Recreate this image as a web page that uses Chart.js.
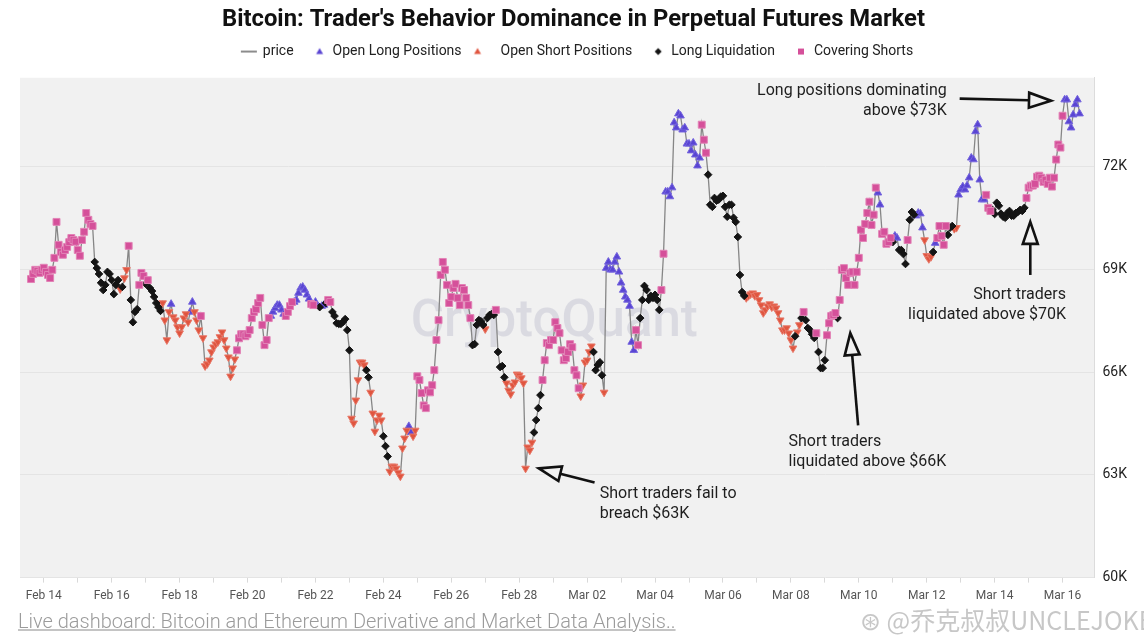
<!DOCTYPE html>
<html><head><meta charset="utf-8">
<script src="https://cdn.jsdelivr.net/npm/chart.js@4.4.1/dist/chart.umd.min.js"></script>
<style>
html,body{margin:0;padding:0;background:#fff;}
#wrap{position:relative;width:1144px;height:642px;overflow:hidden;}
#c{position:absolute;left:0;top:0;}
#footer{position:absolute;left:18px;top:609px;font:300 20px Roboto,sans-serif;color:#9b9b9b;text-decoration:underline;text-decoration-color:#c4c4c4;white-space:nowrap;}
#wm{position:absolute;left:860px;top:601px;font:25px "Noto Sans CJK SC",sans-serif;color:rgba(175,175,175,0.7);white-space:nowrap;}
</style></head>
<body><div id="wrap"><canvas id="c" width="1144" height="642"></canvas>
<div id="footer">Live dashboard: Bitcoin and Ethereum Derivative and Market Data Analysis..</div>
<div id="wm">⊛ @乔克叔叔UNCLEJOKE</div></div>
<script>
// ---- data: two interleaved 3-hourly grids (offset 1.5 h) ----
const startDay = -0.375;      // days from Feb 14 00:00
const stepDays = 0.125;       // 3 hours between samples of one grid
const pricesA = [
  68720,68990,68900,69050,68840,68990,70390,69510,69570,69800,
  69860,69570,69860,70650,70330,69220,68870,68400,68930,68690,
  68550,68430,68750,69690,67460,67840,68900,68580,68460,68200,
  67900,68020,66940,67990,67520,67140,67580,67460,68050,67520,
  67640,66180,66350,66730,66880,67170,66700,65880,66380,66990,
  67110,67110,67580,67840,68170,66790,67580,67760,67960,67820,
  67640,67930,68050,68310,68490,68260,67990,68050,67900,67960,
  68110,67760,67430,67410,67550,66640,64510,65770,66290,66060,
  65410,64270,64740,64130,63540,63250,63190,62960,64070,64420,
  64130,65880,65390,64950,65410,66060,67520,69220,68550,68200,
  68580,67960,68400,67960,66790,67380,67490,67260,67670,67670,
  66590,66180,65680,65360,65710,65910,65680,63810,63950,64600,
  65330,66350,66790,66940,67290,66640,66410,66820,66060,65530,
  65620,66350,66760,66060,66290,65410,69220,68990,69370,68610,
  68200,67930,66640,66790,68110,68400,68230,68260,67820,69460,
  71270,71390,73140,73490,73140,72670,72700,72030,73230,72410,
  70890,71090,71040,71150,70540,70890,70390,68840,68230,68230,
  68310,68260,67960,67820,67990,67930,67730,67230,67290,66940,
  67050,67380,67760,67290,67110,67140,66120,66350,67430,67670,
  67580,68990,68750,68900,68550,69340,69920,70650,70300,71390,
  70890,70100,69800,69800,69920,69570,69160,70450,70600,70650,
  70220,69400,69370,69770,70270,69720,70010,70270,70220,71330,
  71330,71680,72210,73230,71040,71180,70710,70620,70860,70540,
  70650,70570,70650,70740,70800,71390,71450,71710,71680,71620,
  71680,71680,72650,73490,73960,73140,73820,73550
];
const pricesB = [
  68870,68960,68990,68930,68750,69340,69720,69430,69660,69920,
  69810,69400,70100,70450,70270,69040,68610,68550,68870,68280,
  68690,68490,68990,68110,67760,68550,68810,68690,68370,68020,
  67790,67520,67760,67610,67320,67320,67700,67760,67760,67230,
  67000,66240,66590,66820,67030,66940,66440,66120,66640,67110,
  67050,67230,67760,68020,67380,66940,67640,67870,67960,67700,
  67760,68050,68110,68460,68400,68140,67960,67930,67930,68020,
  68050,67640,67410,67470,67230,64650,65180,66290,66210,65850,
  64800,64600,64600,63840,63100,63250,63070,63780,64300,64240,
  64300,65770,65030,65470,65620,66940,68840,68990,68020,68460,
  68170,68460,68170,67580,66820,67520,67380,67580,67700,67820,
  66150,65850,65470,65620,65940,65830,63190,63720,64240,64950,
  65770,66850,66940,67460,67140,66350,66590,66730,65910,65300,
  66290,66590,66590,66210,65910,69040,68990,69220,68930,68400,
  68110,66880,67230,67580,68520,68110,68170,68110,68400,71270,
  71130,73290,73550,73080,72670,72470,72350,72260,72790,71770,
  70830,71010,71130,70830,70890,70510,69950,68340,68170,68280,
  68230,68110,67730,67930,67900,67870,67520,67230,67140,66700,
  67170,67580,67520,67230,67000,66590,66120,67080,67640,67730,
  68110,69040,68550,68930,68930,70160,70330,70980,70600,71240,
  70040,69750,69920,69980,69570,69450,69860,70680,70570,70630,
  69860,69310,69510,69920,69980,70270,70220,70190,71180,71420,
  71450,72260,73030,71620,71040,70800,70740,70950,70630,70510,
  70710,70570,70680,70710,71090,71450,71500,71740,71560,71500,
  71420,72210,72560,73960,73320,73520,73960
];
// L = Open Long, S = Open Short, Q = Long Liquidation, C = Covering Shorts
const kindsA = (
  'CCCCCCCCCC'+'CCCCCQQQQQ'+'QSSCQQCQQQ'+'QSSLSSSSLS'+'CSSSSSSSSC'+
  'CCCCCCCLLL'+'CCLLLLCLQL'+'CQQQQQSSSQ'+'SSSQQSSSSL'+'SCCCCCCCCC'+
  'CCCCQQQSQQ'+'QQSSSSSSSQ'+'QCCCCCCCCC'+'SSSQQSLLLL'+'LLLCQQQQQC'+
  'LLLLLLLLCC'+'QQQQQQQQQS'+'SSSSSSSSSS'+'QSCQQCQQCC'+'QCCCCCCCCC'+
  'LCCQLQQQQL'+'LSSLCCQQSL'+'LLLLLCCQQQ'+'QQQQQCCCCC'+'CCCCLLLL'
).split('');
const kindsB = (
  'CCCCCCCCCC'+'CCCCCQQQQQ'+'QQSQQCCCQQ'+'QSSSSSSLSS'+'SSSSSSSSCC'+
  'CCCCCCLLLL'+'CCLLLLCLLQ'+'CQQQQSSSSQ'+'SSSQSSSSSL'+'SCCCCCCCCC'+
  'CCCCQQQQQC'+'QQSSSSSSQQ'+'CCCCCCCCCS'+'SSQQQLLLLL'+'LLCQQQQQCL'+
  'LLLLLLLLCQ'+'QQQQQQQQSS'+'SSSSSSSSSS'+'SQQQQQQCCC'+'CCCCCCCCCL'+
  'CCCLQQCQLL'+'SSQCCCQSLL'+'LLLLLCQQQQ'+'QQQQCCCCCC'+'CCCLLLL'
).split('');
const seriesNames = ['price','Open Long Positions','Open Short Positions','Long Liquidation','Covering Shorts'];
const kindCodes = ['L','S','Q','C'];
const dayLabels = ['Feb 14','Feb 16','Feb 18','Feb 20','Feb 22','Feb 24','Feb 26','Feb 28',
                   'Mar 02','Mar 04','Mar 06','Mar 08','Mar 10','Mar 12','Mar 14','Mar 16'];
const yTicks = [60000,63000,66000,69000,72000];

// annotation texts (anchored in data units)
const annotations = [
  {lines:['Long positions dominating','above $73K'], tx:26.59, ty:[74225,73640], align:'right', from:[26.97,73990], to:[29.66,73930]},
  {lines:['Short traders','liquidated above $70K'], tx:30.10, ty:[68254,67669], align:'right', from:[29.05,68840], to:[29.05,70390]},
  {lines:['Short traders','liquidated above $66K'], tx:21.93, ty:[63951,63366], align:'left', from:[23.98,64449], to:[23.75,67142]},
  {lines:['Short traders fail to','breach $63K'], tx:16.37, ty:[62430,61844], align:'left', from:[16.22,62780], to:[14.58,63190]}
];

// ---- build ----
const rows = [];
pricesA.forEach((p, i) => rows.push({x: startDay + i*stepDays, y: p, k: kindsA[i]}));
pricesB.forEach((p, i) => rows.push({x: startDay + stepDays/2 + i*stepDays, y: p, k: kindsB[i]}));
rows.sort((a, b) => a.x - b.x);
const pts = rows.map(r => ({x: r.x, y: r.y}));
const byKind = k => rows.filter(r => r.k === k).map(r => ({x: r.x, y: r.y}));

const PLOT_BG = '#f1f1f1';
const styles = {
  L: {bg:'#5a45d3', bd:'#7565de', ps:'triangle', r:4.4, rot:0},
  S: {bg:'#e0553f', bd:'#e87868', ps:'triangle', r:4.4, rot:180},
  Q: {bg:'#141414', bd:'#141414', ps:'rectRot', r:3.8, rot:0},
  C: {bg:'#d5509a', bd:'#e283b6', ps:'rect', r:4.9, rot:0}
};

function icon(w, draw){ const c=document.createElement('canvas'); c.width=w; c.height=12; const g=c.getContext('2d'); draw(g); return c; }
const legendIcons = [
  icon(26, g=>{g.strokeStyle='#8c8c8c'; g.lineWidth=2; g.beginPath(); g.moveTo(9,6); g.lineTo(25,6); g.stroke();}),
  icon(22, g=>{g.fillStyle=styles.L.bg; g.beginPath(); g.moveTo(16,2.5); g.lineTo(19.5,8.5); g.lineTo(12.5,8.5); g.closePath(); g.fill();}),
  icon(22, g=>{g.fillStyle=styles.S.bg; g.beginPath(); g.moveTo(12.5,3.5); g.lineTo(19.5,3.5); g.lineTo(16,9.5); g.closePath(); g.fill();}),
  icon(22, g=>{g.fillStyle=styles.Q.bg; g.beginPath(); g.moveTo(16,2.5); g.lineTo(19.5,6); g.lineTo(16,9.5); g.lineTo(12.5,6); g.closePath(); g.fill();}),
  icon(22, g=>{g.fillStyle=styles.C.bg; g.fillRect(13,3,6,6);})
];

const datasets = [{
  type:'line', label: seriesNames[0], data: pts, borderColor:'#868686', borderWidth:1.3,
  pointRadius:0, pointHoverRadius:0, tension:0, order:10
}];
kindCodes.forEach((k, j) => {
  const s = styles[k];
  datasets.push({
    type:'line', label: seriesNames[j+1], data: byKind(k), showLine:false,
    pointStyle: s.ps, pointRotation: s.rot, pointRadius: s.r, pointHoverRadius: s.r,
    pointBackgroundColor: s.bg, pointBorderColor: s.bd, pointBorderWidth: 1,
    backgroundColor: s.bg, borderColor: s.bd, order: 5 - j
  });
});

const bgPlugin = {
  id:'bg',
  beforeDraw(chart){ const {ctx, chartArea:a} = chart; ctx.save(); ctx.fillStyle = PLOT_BG; ctx.fillRect(a.left, a.top, a.right-a.left, a.bottom-a.top); ctx.restore(); },
  beforeDatasetsDraw(chart){
    const {ctx, chartArea:a} = chart; ctx.save();
    ctx.font = '500 51px Roboto'; ctx.fillStyle = 'rgba(212,213,221,0.8)';
    ctx.textAlign='center'; ctx.textBaseline='middle';
    ctx.fillText('CryptoQuant', (a.left+a.right)/2 - 3, (a.top+a.bottom)/2 - 4);
    ctx.restore();
  },
  afterDraw(chart){
    const {ctx, scales:{x, y}} = chart; ctx.save();
    ctx.font = '16px Roboto'; ctx.fillStyle = '#1e1e1e'; ctx.textBaseline = 'middle';
    annotations.forEach(an => {
      ctx.textAlign = an.align;
      an.lines.forEach((t, i) => ctx.fillText(t, x.getPixelForValue(an.tx), y.getPixelForValue(an.ty[i])));
      const x0 = x.getPixelForValue(an.from[0]), y0 = y.getPixelForValue(an.from[1]);
      const x1 = x.getPixelForValue(an.to[0]), y1 = y.getPixelForValue(an.to[1]);
      const len = Math.hypot(x1-x0, y1-y0), ux = (x1-x0)/len, uy = (y1-y0)/len;
      const hl = 22, hw = 7.5;
      const bx = x1 - ux*hl, by = y1 - uy*hl;
      ctx.strokeStyle = '#111'; ctx.lineWidth = 2.6; ctx.lineJoin='miter';
      ctx.beginPath(); ctx.moveTo(x0, y0); ctx.lineTo(bx, by); ctx.stroke();
      ctx.beginPath(); ctx.moveTo(x1, y1); ctx.lineTo(bx - uy*hw, by + ux*hw); ctx.lineTo(bx + uy*hw, by - ux*hw); ctx.closePath();
      ctx.fillStyle = PLOT_BG; ctx.fill(); ctx.stroke(); ctx.fillStyle = '#1e1e1e';
    });
    ctx.restore();
  }
};

new Chart(document.getElementById('c'), {
  type:'line',
  data:{datasets},
  options:{
    responsive:false, animation:false, devicePixelRatio:1,
    layout:{padding:{left:12, right:9, top:0, bottom:33}},
    interaction:{mode:'nearest', intersect:true},
    plugins:{
      tooltip:{enabled:false},
      title:{display:true, text:"Bitcoin: Trader's Behavior Dominance in Perpetual Futures Market",
             color:'#111', font:{family:'Roboto', size:23.8, weight:'bold'}, padding:{top:6, bottom:0}},
      subtitle:{display:true, text:'', weight:500, font:{size:1}, padding:{top:4, bottom:4}},
      legend:{display:true, position:'top',
        labels:{usePointStyle:true, pointStyleWidth:22, boxHeight:8, padding:10, color:'#222',
                font:{family:'Roboto', size:14},
                sort:(a, b) => a.datasetIndex - b.datasetIndex,
                generateLabels(chart){
                  return Chart.defaults.plugins.legend.labels.generateLabels(chart).map(l => ({...l, pointStyle: legendIcons[l.datasetIndex]}));
                }}}
    },
    scales:{
      x:{type:'linear', min:-0.70, max:30.94,
         grid:{display:true, drawOnChartArea:false, drawTicks:true, tickLength:5, color:'#d9d9d9'},
         border:{display:false},
         ticks:{stepSize:1, includeBounds:false, autoSkip:false, maxRotation:0, padding:6, color:'#555',
                font:{family:'Roboto', size:12},
                callback:v => (v >= 0 && v % 2 === 0) ? dayLabels[v/2] : ''}},
      y:{type:'linear', position:'right', min:60000, max:74600,
         afterBuildTicks:s => { s.ticks = yTicks.map(v => ({value:v})); },
         grid:{color:'#e4e4e4', drawTicks:false},
         border:{display:true, color:'#dcdcdc'},
         ticks:{padding:8, color:'#222', font:{family:'Roboto', size:14}, callback:v => (v/1000) + 'K'}},
      gutter:{type:'linear', position:'left', display:true, min:0, max:1,
         grid:{display:false}, border:{display:false}, ticks:{display:false},
         afterFit:s => { s.width = 8; }}
    }
  },
  plugins:[bgPlugin]
});
</script>
</body></html>
